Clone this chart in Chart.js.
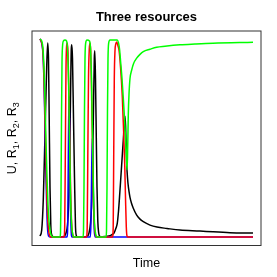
<!DOCTYPE html>
<html>
<head>
<meta charset="utf-8">
<script src="https://cdn.jsdelivr.net/npm/chart.js@4/dist/chart.umd.min.js"></script>
<style>
  html, body { margin: 0; padding: 0; background: #fff; }
  canvas { display: block; }
</style>
</head>
<body>
<canvas id="chart" width="277" height="277"></canvas>
<script>
// time points and values, one pair of arrays per curve
const uTime = [0, 1.7, 3.3, 5, 6.7, 7.7, 8.5, 9.2, 10, 10.8,
  11.5, 13, 15, 24, 26, 27.5, 28.5, 29.5, 30.5, 31.3,
  31.8, 32.5, 33.5, 34.5, 35.5, 36.5, 38, 47, 49, 50.5,
  51.5, 52.5, 53.5, 54.3, 54.8, 55.5, 56.3, 57, 57.8, 58.7,
  59.7, 61, 66, 70, 72, 74, 76, 77.3, 78.5, 79.5,
  80.7, 82, 83.3, 84.3, 85, 85.6, 86.2, 86.8, 87.5, 88,
  89, 90, 91.5, 93.3, 96.7, 100, 103.3, 110, 117, 127,
  140, 160, 173, 190, 213];
const uVals = [0.005, 0.035, 0.19, 0.52, 0.86, 0.98, 0.9, 0.6, 0.25, 0.06,
  0.015, 0.002, 0, 0.003, 0.02, 0.06, 0.15, 0.35, 0.7, 0.95,
  0.97, 0.9, 0.6, 0.3, 0.05, 0.005, 0, 0.003, 0.02, 0.07,
  0.15, 0.35, 0.65, 0.9, 0.94, 0.8, 0.5, 0.25, 0.08, 0.02,
  0.004, 0, 0.003, 0.006, 0.012, 0.02, 0.045, 0.07, 0.13, 0.2,
  0.29, 0.39, 0.49, 0.57, 0.61, 0.56, 0.45, 0.36, 0.3, 0.27,
  0.23, 0.2, 0.17, 0.145, 0.11, 0.09, 0.077, 0.06, 0.05, 0.043,
  0.035, 0.03, 0.026, 0.022, 0.02];

const r1Time = [0, 1, 2, 3, 4, 5, 6, 7, 8, 9, 10, 11,
  24, 24.7, 25.3, 26, 26.7, 27.3, 28, 29, 30, 31, 32, 33, 34,
  46.5, 47.2, 47.8, 48.5, 49.3, 50, 50.7, 51.5, 52.5, 53.5, 54.5, 55.5, 56.5,
  72.5, 73.2, 73.7, 74.3, 75, 75.8, 76.7, 78, 79, 80.5, 82.3, 83.5, 84.7, 85.5, 86.3, 87, 88,
  213];
const r1Vals = [1, 0.99, 0.975, 0.93, 0.8, 0.6, 0.38, 0.18, 0.07, 0.02, 0.003, 0,
  0, 0.05, 0.4, 0.85, 0.97, 0.98, 0.93, 0.7, 0.4, 0.15, 0.04, 0.005, 0,
  0, 0.05, 0.4, 0.8, 0.95, 0.98, 0.94, 0.75, 0.45, 0.18, 0.05, 0.01, 0,
  0, 0.05, 0.4, 0.8, 0.94, 0.975, 0.985, 0.965, 0.944, 0.86, 0.71, 0.55, 0.37, 0.2, 0.05, 0.005, 0,
  0];

const r2Time = [0, 1, 2, 3, 4, 5, 6, 7, 8, 9, 10, 11, 12, 13,
  20, 20.5, 21, 21.5, 22, 22.5, 23.5, 25, 26.5, 27.5, 28.5, 29.5, 30.5, 31.5, 32.5, 34,
  43, 43.5, 44, 44.5, 45, 45.7, 47, 49.5, 50.5, 51.5, 52.5, 53.5, 54.5, 55.5, 57,
  66, 66.5, 67, 67.5, 68, 68.7, 70, 75, 77.3, 78.5,
  79.5, 80.7, 82, 83.3, 84.5, 85.5, 86.3, 87, 87.5, 88.3,
  89, 90, 91.7, 93.5, 96.7, 100, 103.3, 110, 116.7, 125,
  140, 155, 173, 213];
const r2Vals = [1, 0.995, 0.985, 0.95, 0.85, 0.68, 0.48, 0.3, 0.16, 0.08, 0.035, 0.012, 0.003, 0,
  0, 0.02, 0.2, 0.6, 0.88, 0.96, 0.99, 0.995, 0.99, 0.95, 0.8, 0.5, 0.22, 0.07, 0.02, 0,
  0, 0.03, 0.25, 0.65, 0.9, 0.98, 0.995, 0.99, 0.95, 0.8, 0.5, 0.22, 0.07, 0.02, 0,
  0, 0.03, 0.25, 0.65, 0.9, 0.98, 0.995, 0.995, 0.995, 0.98,
  0.95, 0.88, 0.8, 0.7, 0.6, 0.5, 0.42, 0.34, 0.4, 0.62,
  0.72, 0.8, 0.843, 0.875, 0.903, 0.922, 0.936, 0.948, 0.958, 0.963,
  0.97, 0.974, 0.978, 0.983];

const r3Time = [0, 1, 2, 3, 4, 5, 6, 7, 7.7, 8.5, 10,
  27, 27.5, 27.8, 28.5, 29, 29.5, 30.2, 31, 32,
  50.3, 51, 51.7, 52.3, 52.8, 53.5, 54.2, 55,
  213];
const r3Vals = [1, 0.99, 0.97, 0.92, 0.78, 0.55, 0.3, 0.1, 0.03, 0.005, 0,
  0, 0.02, 0.1, 0.5, 0.71, 0.6, 0.25, 0.05, 0,
  0, 0.08, 0.35, 0.5, 0.42, 0.18, 0.04, 0,
  0];

const titleText = "Three resources";
const xLabel = "Time";
// y label pieces: [text, isSubscript]
const yLabel = [["U, R", false], ["1", true], [", R", false], ["2", true], [", R", false], ["3", true]];

function pairs(ts, vs) {
  return ts.map((t, i) => ({ x: t, y: vs[i] }));
}

function line(data, color) {
  return {
    data: data,
    borderColor: color,
    borderWidth: 1.5,
    pointRadius: 0,
    fill: false,
    cubicInterpolationMode: "monotone"
  };
}

const frame = {
  id: "frame",
  afterDraw(chart) {
    const ctx = chart.ctx;
    const a = chart.chartArea;
    ctx.save();
    ctx.strokeStyle = "#333";
    ctx.lineWidth = 1;
    ctx.strokeRect(a.left, a.top, a.right - a.left, a.bottom - a.top);

    const cx = (a.left + a.right) / 2;
    ctx.fillStyle = "#000";
    ctx.textAlign = "center";
    ctx.textBaseline = "alphabetic";
    ctx.font = 'bold 13px "Liberation Sans", Arial, sans-serif';
    ctx.fillText(titleText, cx, 21);

    ctx.font = '12.5px "Liberation Sans", Arial, sans-serif';
    ctx.fillText(xLabel, cx, 267);

    // rotated y label with subscripts
    const big = '12.5px "Liberation Sans", Arial, sans-serif';
    const small = '9px "Liberation Sans", Arial, sans-serif';
    let total = 0;
    yLabel.forEach(p => { ctx.font = p[1] ? small : big; total += ctx.measureText(p[0]).width; });
    ctx.translate(15.5, (a.top + a.bottom) / 2);
    ctx.rotate(-Math.PI / 2);
    ctx.textAlign = "left";
    let x = -total / 2;
    yLabel.forEach(p => {
      ctx.font = p[1] ? small : big;
      ctx.fillText(p[0], x, p[1] ? 3 : 0);
      x += ctx.measureText(p[0]).width;
    });
    ctx.restore();
  }
};

new Chart(document.getElementById("chart").getContext("2d"), {
  type: "line",
  data: {
    datasets: [
      line(pairs(r2Time, r2Vals), "#00FF00"),
      line(pairs(r1Time, r1Vals), "#FF0000"),
      line(pairs(r3Time, r3Vals), "#0000FF"),
      line(pairs(uTime, uVals), "#000000")
    ]
  },
  options: {
    responsive: false,
    animation: false,
    layout: { padding: { left: 32, right: 16, top: 31, bottom: 31.5 } },
    plugins: {
      legend: { display: false },
      tooltip: { enabled: false },
      title: { display: false }
    },
    scales: {
      x: { type: "linear", min: -8, max: 221, display: false },
      y: { min: -0.043, max: 1.04, display: false }
    }
  },
  plugins: [frame]
});
</script>
</body>
</html>
